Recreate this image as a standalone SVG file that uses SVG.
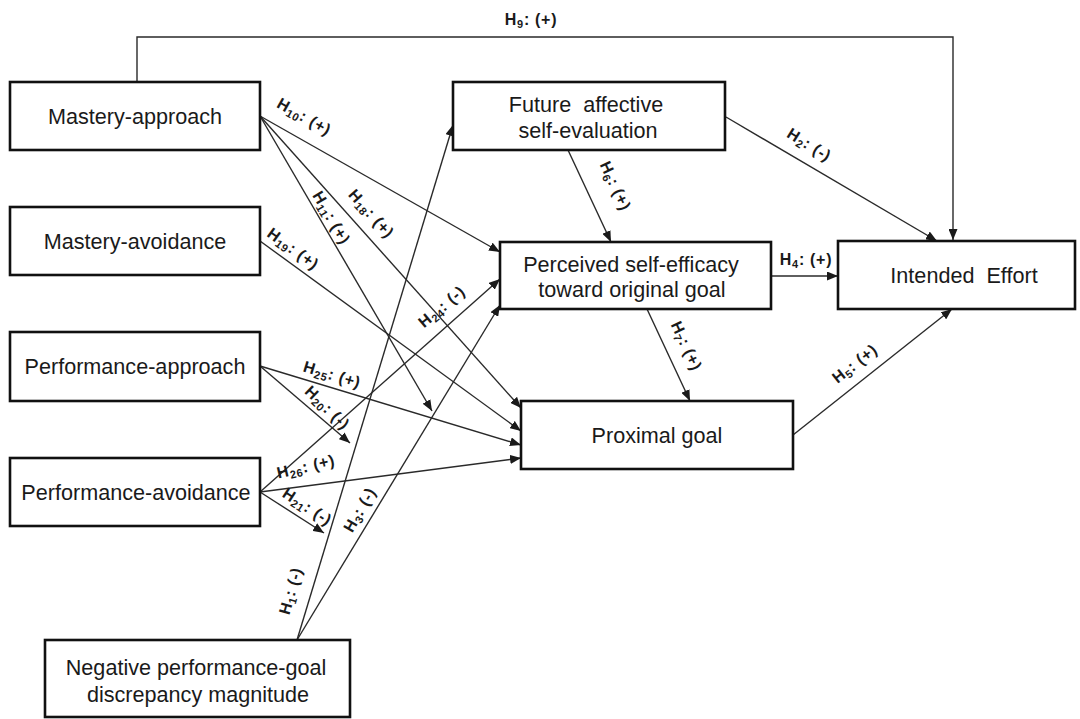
<svg xmlns="http://www.w3.org/2000/svg" width="1080" height="719" viewBox="0 0 1080 719">
  <style>
    .box { fill: #ffffff; stroke: #111111; stroke-width: 2.6; }
    .nt { font-family: "Liberation Sans", Arial, sans-serif; font-size: 21.6px; fill: #1a1a1a; text-anchor: middle; white-space: pre; }
    .edge { fill: none; stroke: #2a2a2a; stroke-width: 1.4; marker-end: url(#arrow); }
    .lbl { font-family: "Liberation Sans", Arial, sans-serif; font-size: 16px; font-weight: bold; letter-spacing: 0.7px; fill: #1a1a1a; text-anchor: middle; white-space: pre; }
    .sub { font-size: 11px; }
  </style>
  <defs>
    <marker id="arrow" markerUnits="userSpaceOnUse" markerWidth="11" markerHeight="9" refX="11" refY="4.5" orient="auto">
      <path d="M0,0 L11,4.5 L0,9 z" fill="#1a1a1a"/>
    </marker>
  </defs>
  <rect width="1080" height="719" fill="#ffffff"/>

  <!-- path connectors and hypothesis labels -->
  <g id="connectors">
    <path class="edge" d="M137,82 V37 H953 V240"/>
    <line class="edge" x1="260" y1="116" x2="500" y2="252"/>
    <line class="edge" x1="260" y1="116" x2="432" y2="411"/>
    <line class="edge" x1="260" y1="116" x2="521" y2="408"/>
    <line class="edge" x1="260" y1="241" x2="521" y2="431"/>
    <line class="edge" x1="260" y1="366" x2="521" y2="445"/>
    <line class="edge" x1="260" y1="366" x2="350" y2="443"/>
    <line class="edge" x1="260" y1="492" x2="500" y2="279"/>
    <line class="edge" x1="260" y1="492" x2="521" y2="458"/>
    <line class="edge" x1="260" y1="492" x2="324" y2="533"/>
    <line class="edge" x1="297" y1="640" x2="453" y2="125"/>
    <line class="edge" x1="297" y1="640" x2="500" y2="305"/>
    <line class="edge" x1="568" y1="150" x2="611" y2="242"/>
    <line class="edge" x1="726" y1="117" x2="937" y2="241"/>
    <line class="edge" x1="771" y1="276" x2="838" y2="276"/>
    <line class="edge" x1="647" y1="309" x2="690" y2="401"/>
    <line class="edge" x1="793" y1="435" x2="952" y2="309"/>

    <text class="lbl" transform="translate(531,20)" y="5">H<tspan class="sub" dy="3">9</tspan><tspan dy="-3">: (+)</tspan></text>
    <text class="lbl" transform="translate(304,117) rotate(29.5)" y="5">H<tspan class="sub" dy="3">10</tspan><tspan dy="-3">: (+)</tspan></text>
    <text class="lbl" transform="translate(331,218) rotate(59.7)" y="5">H<tspan class="sub" dy="3">11</tspan><tspan dy="-3">: (+)</tspan></text>
    <text class="lbl" transform="translate(371,214) rotate(48)" y="5">H<tspan class="sub" dy="3">18</tspan><tspan dy="-3">: (+)</tspan></text>
    <text class="lbl" transform="translate(293,249) rotate(36)" y="5">H<tspan class="sub" dy="3">19</tspan><tspan dy="-3">: (+)</tspan></text>
    <text class="lbl" transform="translate(442,307) rotate(-40)" y="5">H<tspan class="sub" dy="3">24</tspan><tspan dy="-3">: (-)</tspan></text>
    <text class="lbl" transform="translate(332,375) rotate(16.8)" y="5">H<tspan class="sub" dy="3">25</tspan><tspan dy="-3">: (+)</tspan></text>
    <text class="lbl" transform="translate(327,408) rotate(44)" y="5">H<tspan class="sub" dy="3">20</tspan><tspan dy="-3">: (-)</tspan></text>
    <text class="lbl" transform="translate(306,467) rotate(-13)" y="5">H<tspan class="sub" dy="3">26</tspan><tspan dy="-3">: (+)</tspan></text>
    <text class="lbl" transform="translate(307,507) rotate(33)" y="5">H<tspan class="sub" dy="3">21</tspan><tspan dy="-3">: (-)</tspan></text>
    <text class="lbl" transform="translate(360,510) rotate(-60)" y="5">H<tspan class="sub" dy="3">3</tspan><tspan dy="-3">: (-)</tspan></text>
    <text class="lbl" transform="translate(291,591) rotate(-74)" y="5">H<tspan class="sub" dy="3">1</tspan><tspan dy="-3">: (-)</tspan></text>
    <text class="lbl" transform="translate(615,186) rotate(65)" y="5">H<tspan class="sub" dy="3">6</tspan><tspan dy="-3">: (+)</tspan></text>
    <text class="lbl" transform="translate(809,145) rotate(32)" y="5">H<tspan class="sub" dy="3">2</tspan><tspan dy="-3">: (-)</tspan></text>
    <text class="lbl" transform="translate(806,260)" y="5">H<tspan class="sub" dy="3">4</tspan><tspan dy="-3">: (+)</tspan></text>
    <text class="lbl" transform="translate(686,346) rotate(65)" y="5">H<tspan class="sub" dy="3">7</tspan><tspan dy="-3">: (+)</tspan></text>
    <text class="lbl" transform="translate(855,364) rotate(-38)" y="5">H<tspan class="sub" dy="3">5</tspan><tspan dy="-3">: (+)</tspan></text>
  </g>

  <g id="mastery-approach">
    <rect class="box" x="10" y="82" width="250" height="68"/>
    <text class="nt" x="135" y="124">Mastery-approach</text>
  </g>
  <g id="mastery-avoidance">
    <rect class="box" x="10" y="207" width="250" height="68"/>
    <text class="nt" x="135" y="249">Mastery-avoidance</text>
  </g>
  <g id="performance-approach">
    <rect class="box" x="10" y="332" width="250" height="69"/>
    <text class="nt" x="135" y="374">Performance-approach</text>
  </g>
  <g id="performance-avoidance">
    <rect class="box" x="10" y="458" width="250" height="68"/>
    <text class="nt" x="136" y="500">Performance-avoidance</text>
  </g>
  <g id="negative-discrepancy">
    <rect class="box" x="45" y="640" width="305" height="77"/>
    <text class="nt" x="196" y="675">Negative performance-goal</text>
    <text class="nt" x="198" y="702">discrepancy magnitude</text>
  </g>
  <g id="future-affective">
    <rect class="box" x="453" y="82" width="272" height="68"/>
    <text class="nt" x="586" y="112">Future  affective</text>
    <text class="nt" x="588" y="138">self-evaluation</text>
  </g>
  <g id="perceived-self-efficacy">
    <rect class="box" x="500" y="242" width="271" height="67"/>
    <text class="nt" x="631" y="272">Perceived self-efficacy</text>
    <text class="nt" x="632" y="297">toward original goal</text>
  </g>
  <g id="intended-effort">
    <rect class="box" x="838" y="241" width="237" height="68"/>
    <text class="nt" x="964" y="283">Intended  Effort</text>
  </g>
  <g id="proximal-goal">
    <rect class="box" x="521" y="401" width="272" height="68"/>
    <text class="nt" x="657" y="443">Proximal goal</text>
  </g>
</svg>
